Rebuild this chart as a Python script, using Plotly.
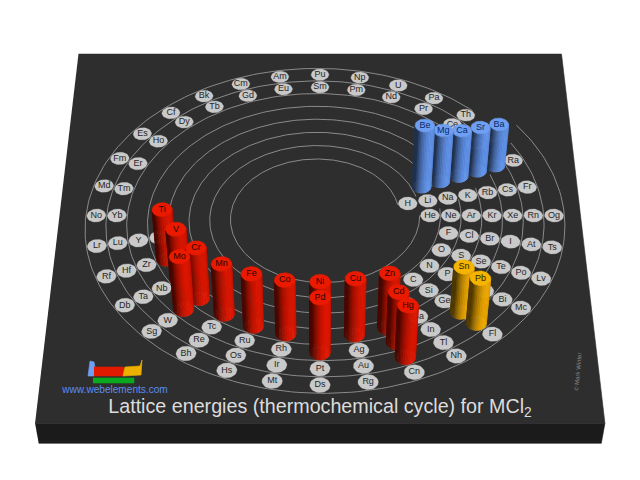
import math
import plotly.graph_objects as go

# ---- data ----
# Each column of the wrapped periodic table, clockwise from the noble gases.
column_symbols = [
    ["He", "Ne", "Ar", "Kr", "Xe", "Rn", "Og"],
    ["F", "Cl", "Br", "I", "At", "Ts"],
    ["O", "S", "Se", "Te", "Po", "Lv"],
    ["N", "P", "As", "Sb", "Bi", "Mc"],
    ["C", "Si", "Ge", "Sn", "Pb", "Fl"],
    ["B", "Al", "Ga", "In", "Tl", "Nh"],
    ["Zn", "Cd", "Hg", "Cn"],
    ["Cu", "Ag", "Au", "Rg"],
    ["Ni", "Pd", "Pt", "Ds"],
    ["Co", "Rh", "Ir", "Mt"],
    ["Fe", "Ru", "Os", "Hs"],
    ["Mn", "Tc", "Re", "Bh"],
    ["Cr", "Mo", "W", "Sg"],
    ["V", "Nb", "Ta", "Db"],
    ["Ti", "Zr", "Hf", "Rf"],
    ["Sc", "Y", "Lu", "Lr"],
    ["Yb", "No"], ["Tm", "Md"], ["Er", "Fm"], ["Ho", "Es"], ["Dy", "Cf"],
    ["Tb", "Bk"], ["Gd", "Cm"], ["Eu", "Am"], ["Sm", "Pu"], ["Pm", "Np"],
    ["Nd", "U"], ["Pr", "Pa"], ["Ce", "Th"], ["La", "Ac"],
    ["Be", "Mg", "Ca", "Sr", "Ba", "Ra"],
    ["H", "Li", "Na", "K", "Rb", "Cs", "Fr"],
]
column_first_period = [1, 2, 2, 2, 2, 2, 4, 4, 4, 4, 4, 4, 4, 4, 4, 4,
                       6, 6, 6, 6, 6, 6, 6, 6, 6, 6, 6, 6, 6, 6, 2, 1]

blue_symbols = ["Be", "Mg", "Ca", "Sr", "Ba"]
blue_energy = [3020, 2526, 2258, 2156, 2056]
red_symbols = ["Ti", "V", "Cr", "Mn", "Fe", "Co", "Ni", "Cu", "Zn", "Mo", "Pd", "Cd", "Hg"]
red_energy = [2490, 2540, 2540, 2530, 2630, 2700, 2770, 2820, 2750, 2650, 2780, 2550, 2630]
gold_symbols = ["Sn", "Pb"]
gold_energy = [2280, 2270]

title_text = "Lattice energies (thermochemical cycle) for MCl<sub>2</sub>"
site_text = "www.webelements.com"
credit_text = "© Mark Winter"

# ---- board projection (perspective camera) ----
CX, HZ, YC = 320.0, 2000.0, 215.5
Q = 1.402e-7
C = 2.525e-7
NAD = 4003.0
VC = 1.0 / (YC + HZ)
R0, SP = 110.0, 20.67
ENERGY_Z = 0.0195
STEP = 360.0 / 32


def project(X, Y, z=0.0):
    w = VC - Q * Y - C * z
    sy = (1 - NAD * C * z) / w - HZ
    sx = CX + (X / (YC + HZ)) / w
    return sx, sy


def polar(idx, period):
    r = R0 + (period - 1) * SP - idx * SP / 32
    t = math.radians(idx * STEP)
    return r * math.cos(t), r * math.sin(t)


where = {}
for i, (col, first) in enumerate(zip(column_symbols, column_first_period)):
    for k, s in enumerate(col):
        where[s] = polar(i, first + k)

fig = go.Figure()


def poly(xs, ys, fill, line=None, lw=0.6):
    fig.add_trace(go.Scatter(x=xs, y=ys, mode="lines", fill="toself", fillcolor=fill,
                             line=dict(color=line or fill, width=lw), hoverinfo="skip"))


def label(xs, ys, txt, size, color):
    fig.add_trace(go.Scatter(x=xs, y=ys, mode="text", text=txt, textposition="middle center",
                             textfont=dict(family="Liberation Sans", size=size, color=color),
                             hoverinfo="skip"))


# board
W, YB, YF, TH = 260.5, -253.0, 276.0, -21.0
front = [project(-W, YF), project(W, YF), project(W, YF, TH), project(-W, YF, TH)]
poly([p[0] for p in front], [p[1] for p in front], "#1b1b1b")
top = [project(-W, YB), project(W, YB), project(W, YF), project(-W, YF)]
poly([p[0] for p in top], [p[1] for p in top], "#2e2e2e")

# spiral guide lines
for j in range(8):
    sx, sy = [], []
    start = -3.0 * j / 7
    n = 260
    for a in range(n + 1):
        idx = start + 31.0 * a / n
        r = R0 - 10.3 + SP * j - idx * SP / 32
        t = math.radians(idx * STEP)
        px, py = project(r * math.cos(t), r * math.sin(t))
        sx.append(px); sy.append(py)
    fig.add_trace(go.Scatter(x=sx, y=sy, mode="lines", line=dict(color="#949494", width=0.9),
                             hoverinfo="skip"))


def disc(X, Y, z, r, n=40):
    pts = [project(X + r * math.cos(2 * math.pi * a / n), Y + r * math.sin(2 * math.pi * a / n), z)
           for a in range(n + 1)]
    return [p[0] for p in pts], [p[1] for p in pts]


# element discs and labels
dx, dy, lx, ly, lt = [], [], [], [], []
for s, (X, Y) in where.items():
    a, b = disc(X, Y, 0, 9.5)
    dx += a + [None]; dy += b + [None]
    p = project(X, Y)
    lx.append(p[0]); ly.append(p[1]); lt.append(s)
poly(dx, dy, "#c9c9c9", lw=0.3)
label(lx, ly, lt, 9, "#262626")

# bars
bars = []
styles = {
    "blue": ((98, 148, 236), "#6f9ff2", "#0a2a66"),
    "red": ((222, 22, 0), "#ea1a00", "#2a0400"),
    "gold": ((238, 168, 0), "#f4b400", "#2a1e00"),
}
for syms, vals, key in ((blue_symbols, blue_energy, "blue"),
                        (red_symbols, red_energy, "red"),
                        (gold_symbols, gold_energy, "gold")):
    for s, e in zip(syms, vals):
        bars.append((s, e, key))
bars.sort(key=lambda b: where[b[0]][1])

BAR_R, CAM_Y, LIGHT = 9.6, 1437.0, math.radians(50)
STRIPS = 18
for s, e, key in bars:
    X, Y = where[s]
    z = e * ENERGY_Z
    base, topc, txtc = styles[key]
    alpha = math.atan2(CAM_Y - Y, -X)
    for a in range(STRIPS):
        f0 = alpha - math.pi / 2 + math.pi * a / STRIPS
        f1 = alpha - math.pi / 2 + math.pi * (a + 1) / STRIPS
        mid = (f0 + f1) / 2
        b = 0.33 + 0.67 * max(0.0, math.cos(mid - LIGHT))
        col = "rgb(%d,%d,%d)" % tuple(int(c * b) for c in base)
        corners = [project(X + BAR_R * math.cos(f0), Y + BAR_R * math.sin(f0), 0),
                   project(X + BAR_R * math.cos(f1), Y + BAR_R * math.sin(f1), 0),
                   project(X + BAR_R * math.cos(f1), Y + BAR_R * math.sin(f1), z),
                   project(X + BAR_R * math.cos(f0), Y + BAR_R * math.sin(f0), z)]
        poly([p[0] for p in corners] + [corners[0][0]], [p[1] for p in corners] + [corners[0][1]], col)
    # foot and top of the cylinder
    a, b_ = disc(X, Y, z, BAR_R)
    poly(a, b_, topc)
    p = project(X, Y, z)
    label([p[0]], [p[1]], [s], 9, txtc)

# little logo
poly([88, 90, 94, 95, 94, 88], [376, 361, 362, 367, 376, 376], "#6f9ff2")
poly([94, 124, 124, 94], [367, 367, 376, 376], "#e01a00")
poly([123, 125, 140, 142, 141, 123], [376, 367, 366, 360, 375, 376], "#eeb000")
poly([93, 134, 134, 93], [378, 378, 383, 383], "#0aa820")
label([115], [390], [site_text], 10.1, "#5b8def")
label([320], [408], [title_text], 19.7, "#dcdcdc")

fig.add_annotation(x=578, y=372, text=credit_text, textangle=-85, showarrow=False,
                   font=dict(family="Liberation Sans", size=6, color="#8a8a8a"))

fig.update_layout(width=640, height=480, margin=dict(l=0, r=0, t=0, b=0),
                  paper_bgcolor="white", plot_bgcolor="white", showlegend=False,
                  xaxis=dict(range=[0, 640], visible=False, fixedrange=True),
                  yaxis=dict(range=[480, 0], visible=False, fixedrange=True))
fig.write_html("out.html", config={"displayModeBar": False},
               post_script="document.body.style.margin='0';document.body.style.overflow='hidden';")
